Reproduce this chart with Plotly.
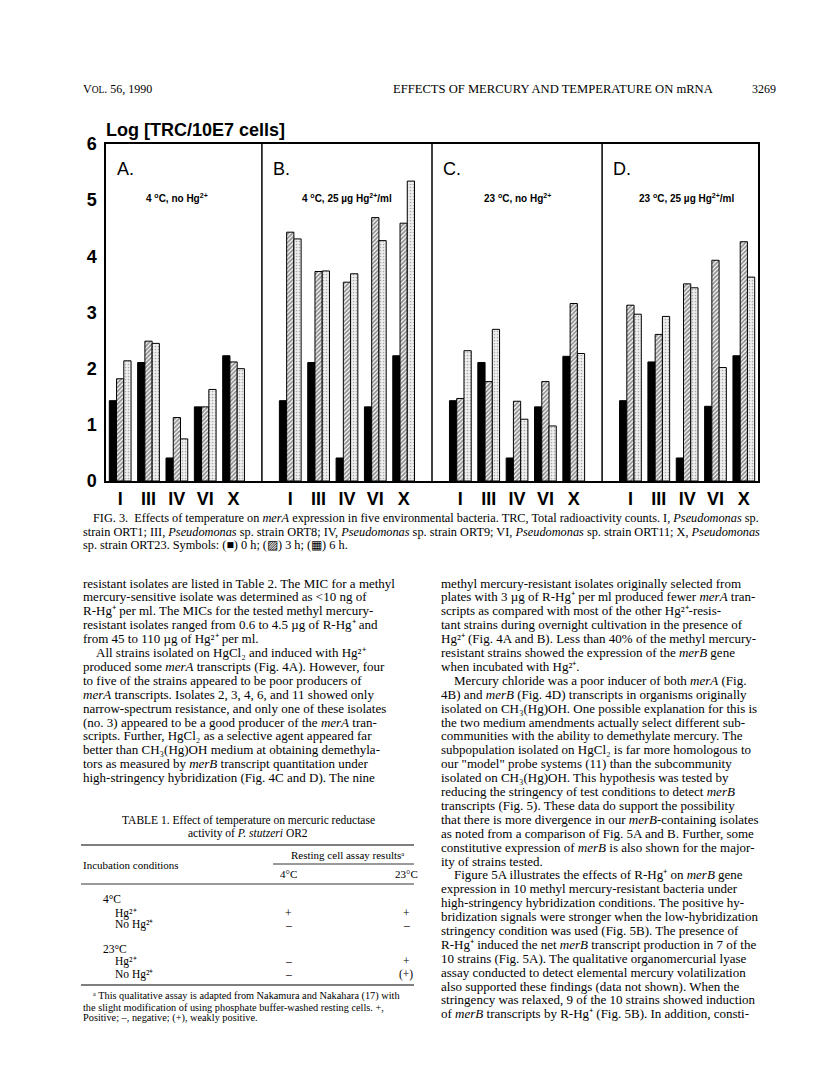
import plotly.graph_objects as go

# ---- data (log TRC per 10E7 cells) ----
strains = ["I", "III", "IV", "VI", "X"]
panels = ["A.", "B.", "C.", "D."]
conditions = [
    "4 <sup>o</sup>C, no Hg<sup>2+</sup>",
    "4 <sup>o</sup>C, 25 µg Hg<sup>2+</sup>/ml",
    "23 <sup>o</sup>C, no Hg<sup>2+</sup>",
    "23 <sup>o</sup>C, 25 µg Hg<sup>2+</sup>/ml",
]
h0_A = [1.43, 2.11, 0.41, 1.32, 2.23]
h0_B = [1.43, 2.11, 0.41, 1.32, 2.23]
h0_C = [1.43, 2.11, 0.41, 1.32, 2.22]
h0_D = [1.43, 2.12, 0.41, 1.33, 2.23]
h3_A = [1.82, 2.49, 1.13, 1.32, 2.12]
h3_B = [4.43, 3.73, 3.54, 4.69, 4.59]
h3_C = [1.47, 1.77, 1.42, 1.77, 3.16]
h3_D = [3.13, 2.61, 3.51, 3.93, 4.26]
h6_A = [2.14, 2.45, 0.75, 1.63, 2.00]
h6_B = [4.31, 3.74, 3.69, 4.28, 5.34]
h6_C = [2.32, 2.70, 1.10, 0.98, 2.27]
h6_D = [2.97, 2.93, 3.44, 2.02, 3.63]

# ---- page text ----
caption = [
    "FIG. 3.  Effects of temperature on <i>merA</i> expression in five environmental bacteria. TRC, Total radioactivity counts. I, <i>Pseudomonas</i> sp.",
    "strain ORT1; III, <i>Pseudomonas</i> sp. strain ORT8; IV, <i>Pseudomonas</i> sp. strain ORT9; VI, <i>Pseudomonas</i> sp. strain ORT11; X, <i>Pseudomonas</i>",
    "sp. strain ORT23. Symbols: (■) 0 h; (▨) 3 h; (▦) 6 h.",
]
left_col = [
    "resistant isolates are listed in Table 2. The MIC for a methyl",
    "mercury-sensitive isolate was determined as &lt;10 ng of",
    "R-Hg⁺ per ml. The MICs for the tested methyl mercury-",
    "resistant isolates ranged from 0.6 to 4.5 µg of R-Hg⁺ and",
    "from 45 to 110 µg of Hg²⁺ per ml.",
    "\u2002\u2002All strains isolated on HgCl₂ and induced with Hg²⁺",
    "produced some <i>merA</i> transcripts (Fig. 4A). However, four",
    "to five of the strains appeared to be poor producers of",
    "<i>merA</i> transcripts. Isolates 2, 3, 4, 6, and 11 showed only",
    "narrow-spectrum resistance, and only one of these isolates",
    "(no. 3) appeared to be a good producer of the <i>merA</i> tran-",
    "scripts. Further, HgCl₂ as a selective agent appeared far",
    "better than CH₃(Hg)OH medium at obtaining demethyla-",
    "tors as measured by <i>merB</i> transcript quantitation under",
    "high-stringency hybridization (Fig. 4C and D). The nine",
]
right_col = [
    "methyl mercury-resistant isolates originally selected from",
    "plates with 3 µg of R-Hg⁺ per ml produced fewer <i>merA</i> tran-",
    "scripts as compared with most of the other Hg²⁺-resis-",
    "tant strains during overnight cultivation in the presence of",
    "Hg²⁺ (Fig. 4A and B). Less than 40% of the methyl mercury-",
    "resistant strains showed the expression of the <i>merB</i> gene",
    "when incubated with Hg²⁺.",
    "\u2002\u2002Mercury chloride was a poor inducer of both <i>merA</i> (Fig.",
    "4B) and <i>merB</i> (Fig. 4D) transcripts in organisms originally",
    "isolated on CH₃(Hg)OH. One possible explanation for this is",
    "the two medium amendments actually select different sub-",
    "communities with the ability to demethylate mercury. The",
    "subpopulation isolated on HgCl₂ is far more homologous to",
    "our \"model\" probe systems (11) than the subcommunity",
    "isolated on CH₃(Hg)OH. This hypothesis was tested by",
    "reducing the stringency of test conditions to detect <i>merB</i>",
    "transcripts (Fig. 5). These data do support the possibility",
    "that there is more divergence in our <i>merB</i>-containing isolates",
    "as noted from a comparison of Fig. 5A and B. Further, some",
    "constitutive expression of <i>merB</i> is also shown for the major-",
    "ity of strains tested.",
    "\u2002\u2002Figure 5A illustrates the effects of R-Hg⁺ on <i>merB</i> gene",
    "expression in 10 methyl mercury-resistant bacteria under",
    "high-stringency hybridization conditions. The positive hy-",
    "bridization signals were stronger when the low-hybridization",
    "stringency condition was used (Fig. 5B). The presence of",
    "R-Hg⁺ induced the net <i>merB</i> transcript production in 7 of the",
    "10 strains (Fig. 5A). The qualitative organomercurial lyase",
    "assay conducted to detect elemental mercury volatilization",
    "also supported these findings (data not shown). When the",
    "stringency was relaxed, 9 of the 10 strains showed induction",
    "of <i>merB</i> transcripts by R-Hg⁺ (Fig. 5B). In addition, consti-",
]
table_rows = ["4°C", "Hg²⁺", "No Hg²⁺", "23°C", "Hg²⁺", "No Hg²⁺"]
table_4c = ["", "+", "–", "", "–", "–"]
table_23c = ["", "+", "–", "", "+", "(+)"]
footnote = [
    "ᵃ This qualitative assay is adapted from Nakamura and Nakahara (17) with",
    "the slight modification of using phosphate buffer-washed resting cells. +,",
    "Positive; –, negative; (+), weakly positive.",
]

W, H = 816, 1081
L, R, T, B = 98, 750, 136, 473
SANS = "Arial, Liberation Sans, sans-serif"
SERIF = "Times New Roman, Liberation Serif, serif"


def px(x):
    return (x - L) / (R - L)


def py(y):
    return (B - y) / (B - T)


def text(x, y, s, size=12, font=SERIF, anchor="left", **kw):
    if not s:
        return
    fig.add_annotation(x=px(x), y=py(y), xref="paper", yref="paper", text=s,
                       showarrow=False, xanchor=anchor, yanchor="middle",
                       font=dict(family=font, size=size, color="black"), **kw)


def hline(x0, x1, y, w=1):
    fig.add_shape(type="line", xref="paper", yref="paper", x0=px(x0), x1=px(x1),
                  y0=py(y), y1=py(y), line=dict(color="black", width=w))


xs = [p * 6 + i for p in range(len(panels)) for i in range(len(strains))]
fig = go.Figure()
fig.add_bar(x=xs, y=h0_A + h0_B + h0_C + h0_D, name="0 h",
            marker=dict(color="black", line=dict(color="black", width=1)))
fig.add_bar(x=xs, y=h3_A + h3_B + h3_C + h3_D, name="3 h",
            marker=dict(color="white", line=dict(color="black", width=1),
                        pattern=dict(shape="/", fgcolor="#222", bgcolor="white",
                                     size=3, solidity=0.6)))
fig.add_bar(x=xs, y=h6_A + h6_B + h6_C + h6_D, name="6 h",
            marker=dict(color="white", line=dict(color="black", width=1),
                        pattern=dict(shape=".", fgcolor="#666", bgcolor="#f0f0f0",
                                     size=3, solidity=0.25)))

# panel dividers
for p in range(1, len(panels)):
    fig.add_shape(type="line", xref="x", yref="y", x0=p * 6 - 1, x1=p * 6 - 1,
                  y0=0, y1=6, line=dict(color="black", width=1.5))

for p, (lab, cond) in enumerate(zip(panels, conditions)):
    fig.add_annotation(x=p * 6 - 1 if p else -0.5, y=5.55, xref="x", yref="y",
                       text=lab, showarrow=False, xanchor="left", xshift=9,
                       font=dict(family="Liberation Sans Narrow, Arial Narrow, Arial",
                                 size=18, color="black"))
    fig.add_annotation(x=p * 6 + 2, y=5.03, xref="x", yref="y", text=cond,
                       showarrow=False, xanchor="center",
                       font=dict(family=SANS, size=10, color="black", weight="bold"))

# header, axis title
text(73, 81, "V<span style='font-size:9.5px'>OL</span>. 56, 1990", 12)
text(383, 81, "EFFECTS OF MERCURY AND TEMPERATURE ON mRNA", 12.6)
text(742, 81, "3269", 12)
fig.add_annotation(x=px(96), y=py(122), xref="paper", yref="paper",
                   text="Log [TRC/10E7 cells]", showarrow=False, xanchor="left",
                   yanchor="middle", font=dict(family=SANS, size=18, color="black",
                                               weight="bold"))

# caption
text(83, 510, caption[0], 12.3)
text(73, 524, caption[1], 12.3)
text(73, 537, caption[2], 12.3)

# body columns
for i, s in enumerate(left_col):
    text(73, 575 + i * 13.9, s, 13)
for i, s in enumerate(right_col):
    text(431, 575 + i * 13.9, s, 13)

# table 1
text(240, 812, "TABLE 1. Effect of temperature on mercuric reductase", 11.5, anchor="center")
text(240, 825, "activity of <i>P. stutzeri</i> OR2", 11.5, anchor="center")
hline(73, 406, 837, 1.2)
text(73, 857, "Incubation conditions", 11)
text(339, 847, "Resting cell assay resultsᵃ", 11, anchor="center")
hline(265, 406, 856, 0.8)
text(280, 866, "4°C", 11, anchor="center")
text(398, 866, "23°C", 11, anchor="center")
hline(73, 406, 876, 0.8)
row_y = [891, 905, 917, 941, 953, 966]
for i, (lab, a, b) in enumerate(zip(table_rows, table_4c, table_23c)):
    text(93 if "°C" in lab else 105, row_y[i], lab, 11.5)
    text(280, row_y[i], a, 11.5, anchor="center")
    text(398, row_y[i], b, 11.5, anchor="center")
hline(73, 406, 977, 1.2)
text(83, 988, footnote[0], 10.3)
text(73, 999, footnote[1], 10.3)
text(73, 1010, footnote[2], 10.3)

fig.update_layout(
    width=W, height=H, barmode="group", bargap=0.233, bargroupgap=0,
    showlegend=False, plot_bgcolor="white", paper_bgcolor="white",
    margin=dict(l=L, r=W - R, t=T, b=H - B, autoexpand=False),
    xaxis=dict(range=[-0.5, 22.5], tickvals=xs, ticktext=strains * len(panels),
               showgrid=False, zeroline=False, showline=True, mirror=True,
               linecolor="black", linewidth=1.5, ticks="", ticklabelstandoff=1,
               tickfont=dict(family=SANS, size=18, color="black", weight="bold")),
    yaxis=dict(range=[0, 6], tickvals=[0, 1, 2, 3, 4, 5, 6], showgrid=False,
               zeroline=False, showline=True, mirror=True, linecolor="black",
               linewidth=1.5, ticks="", ticklabelstandoff=4,
               tickfont=dict(family=SANS, size=18, color="black", weight="bold")),
)
fig.write_html("out.html")
